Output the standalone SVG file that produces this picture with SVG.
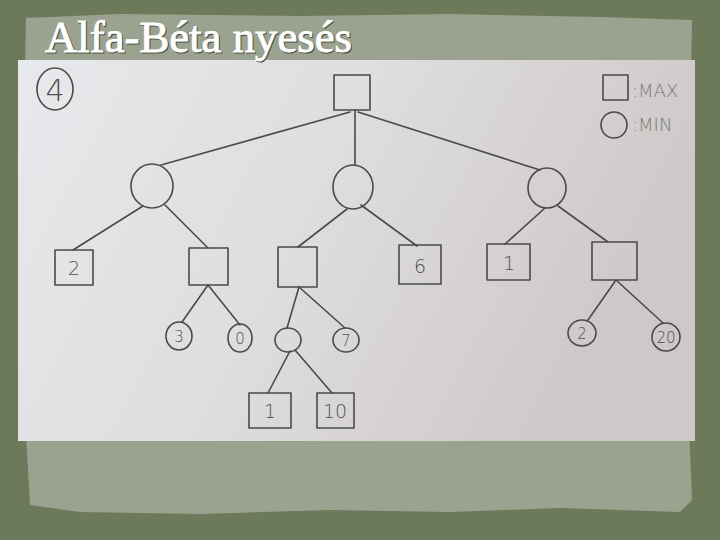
<svg xmlns="http://www.w3.org/2000/svg" width="720" height="540" viewBox="0 0 720 540">
<defs>
<linearGradient id="paper" x1="0" y1="0" x2="1" y2="0.3">
<stop offset="0" stop-color="#e8e9ec"/>
<stop offset="0.5" stop-color="#dedddf"/>
<stop offset="1" stop-color="#cfc8c8"/>
</linearGradient>
<style>
.pen{fill:none;stroke:#4a4a4a;stroke-width:1.6;stroke-linecap:round;stroke-linejoin:round}
.num{font-family:"DejaVu Sans","Liberation Sans",sans-serif;font-weight:300;fill:#505050;text-anchor:middle}
.big{font-size:19px}
.small{font-size:15px}
.leg{font-family:"DejaVu Sans","Liberation Sans",sans-serif;font-size:18px;fill:#7a7a7a;font-weight:300}
.title{font-family:"Liberation Serif","DejaVu Serif",serif;font-size:44px}
</style>
</defs>
<rect x="0" y="0" width="720" height="540" fill="#6d795b"/>
<path d="M26,18 L120,14 L300,16 L450,14 L600,17 L692,20 L690,120 L693,260 L688,400 L692,500 L680,512 L560,508 L450,512 L330,510 L200,514 L80,512 L30,505 L24,400 L27,250 L24,120 Z" fill="#9ba390"/>
<rect x="18" y="60" width="677" height="381" fill="url(#paper)"/>
<text class="title" x="46" y="53" fill="#4a5040" stroke="#4a5040" stroke-width="1" textLength="307" lengthAdjust="spacingAndGlyphs">Alfa-Béta nyesés</text>
<text class="title" x="45" y="52" fill="#ffffff" stroke="#ffffff" stroke-width="0.9" textLength="307" lengthAdjust="spacingAndGlyphs">Alfa-Béta nyesés</text>

<g id="connectors" class="pen">
<line x1="350" y1="112" x2="161" y2="165"/>
<line x1="355" y1="110" x2="355" y2="165"/>
<line x1="358" y1="112" x2="540" y2="170"/>
<line x1="143" y1="206" x2="73" y2="250"/>
<line x1="165" y1="205" x2="208" y2="248"/>
<line x1="347" y1="209" x2="298" y2="247"/>
<line x1="361" y1="205" x2="417" y2="246"/>
<line x1="545" y1="208" x2="505" y2="244"/>
<line x1="558" y1="206" x2="608" y2="242"/>
<line x1="208" y1="285" x2="182" y2="322"/>
<line x1="208" y1="285" x2="240" y2="325"/>
<line x1="299" y1="287" x2="287" y2="328"/>
<line x1="299" y1="287" x2="345" y2="328"/>
<line x1="290" y1="351" x2="268" y2="393"/>
<line x1="295" y1="350" x2="332" y2="393"/>
<line x1="616" y1="280" x2="588" y2="320"/>
<line x1="616" y1="280" x2="663" y2="323"/>
</g>

<g id="label-4"><ellipse class="pen" cx="55" cy="89" rx="18" ry="21"/><text class="num" x="55" y="101" font-size="30">4</text></g>

<g id="legend">
<rect class="pen" x="603" y="75" width="25" height="25"/>
<text class="leg" x="632" y="97">:MAX</text>
<circle class="pen" cx="614" cy="125" r="13"/>
<text class="leg" x="632" y="131">:MIN</text>
</g>

<g id="root"><rect class="pen" x="334" y="75" width="36" height="35"/></g>

<g id="min-left"><ellipse class="pen" cx="152" cy="186" rx="21" ry="22"/></g>
<g id="min-mid"><ellipse class="pen" cx="353" cy="187" rx="20" ry="22"/></g>
<g id="min-right"><ellipse class="pen" cx="547" cy="188" rx="19" ry="20"/></g>

<g id="max-2"><rect class="pen" x="55" y="250" width="38" height="35"/><text class="num big" x="74" y="275">2</text></g>
<g id="max-a"><rect class="pen" x="189" y="248" width="39" height="37"/></g>
<g id="max-b"><rect class="pen" x="278" y="247" width="39" height="40"/></g>
<g id="max-6"><rect class="pen" x="399" y="245" width="42" height="39"/><text class="num big" x="420" y="273">6</text></g>
<g id="max-1"><rect class="pen" x="487" y="244" width="43" height="36"/><text class="num big" x="509" y="270">1</text></g>
<g id="max-c"><rect class="pen" x="592" y="242" width="45" height="38"/></g>

<g id="min-3"><ellipse class="pen" cx="179" cy="336" rx="13" ry="14"/><text class="num small" x="179" y="342">3</text></g>
<g id="min-0"><ellipse class="pen" cx="240" cy="338" rx="12" ry="14"/><text class="num small" x="240" y="344">0</text></g>
<g id="min-d"><ellipse class="pen" cx="288" cy="340" rx="13" ry="12"/></g>
<g id="min-7"><ellipse class="pen" cx="346" cy="340" rx="13" ry="12"/><text class="num small" x="346" y="346">7</text></g>
<g id="min-2"><ellipse class="pen" cx="582" cy="333" rx="14" ry="13"/><text class="num small" x="582" y="339">2</text></g>
<g id="min-20"><ellipse class="pen" cx="666" cy="337" rx="14" ry="14"/><text class="num small" x="666" y="343">20</text></g>

<g id="max-1b"><rect class="pen" x="249" y="393" width="42" height="35"/><text class="num big" x="270" y="418">1</text></g>
<g id="max-10"><rect class="pen" x="317" y="393" width="37" height="35"/><text class="num big" x="335" y="418">10</text></g>
</svg>
